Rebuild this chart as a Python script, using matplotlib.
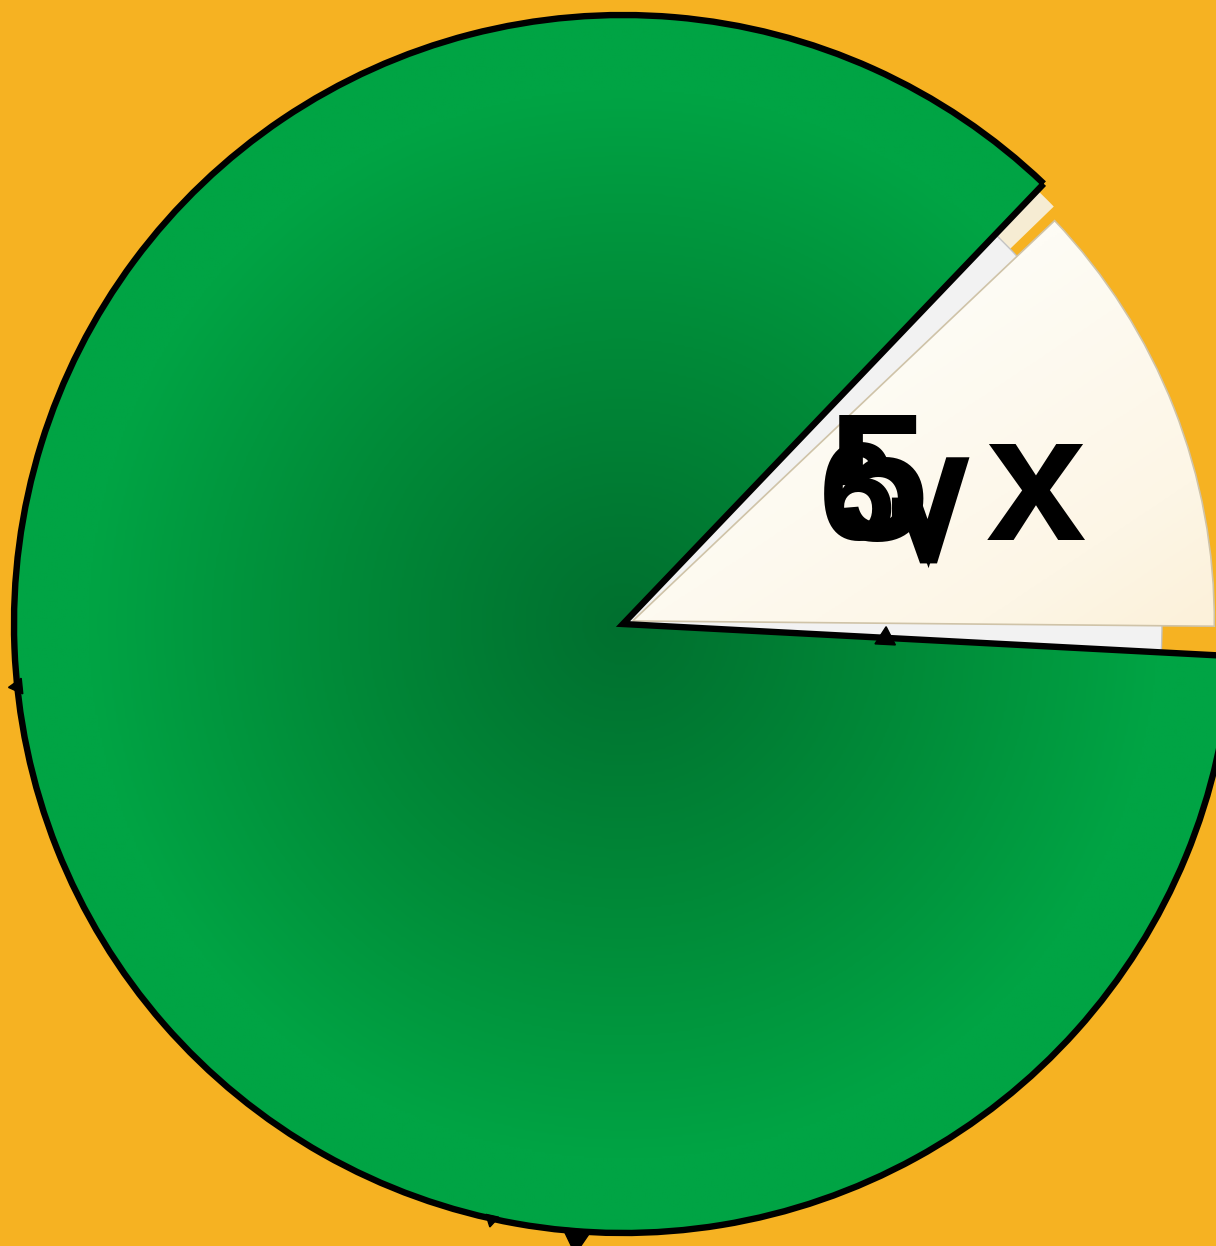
import numpy as np
import matplotlib.pyplot as plt
import matplotlib.patheffects as pe
from matplotlib.patches import Wedge
from matplotlib.colors import LinearSegmentedColormap

# pie shares: main (green) part and the cut-out slice
shares = [86.3, 13.7]
start_angle = 46.3

# label pieces drawn on the cut-out slice
label_parts = ['6', '5', '√', 'x']

# little black notches on the outline (angle in degrees, radius, marker rotation, size)
notch_angles = [-3.0, 185.8, 257.5, 265.6]
notch_radii = [0.43, 1.0, 1.0, 1.01]
notch_rot = [-3.0, 95.8, 167.5, 175.6]
notch_size = [17, 13, 11, 24]

bg = '#F6B222'
green_in, green_out = '#00702F', '#00A444'

fig = plt.figure(figsize=(12.16, 12.46), dpi=100)
fig.patch.set_facecolor(bg)
ax = fig.add_axes([0, 0, 1, 1])
ax.set_facecolor(bg)

# main pie, the second slice is left empty (it is "pulled out")
wedges, _ = ax.pie(shares, startangle=start_angle, counterclock=True,
                   colors=['none', 'none'],
                   wedgeprops=dict(linewidth=4.6, edgecolor='black', zorder=3))
wedges[1].set_visible(False)

px = 609.0
cx, cy = 623, 624
ax.set_xlim(-cx / px, (1216 - cx) / px)
ax.set_ylim(-(1246 - cy) / px, cy / px)
ax.set_aspect('equal')
ax.axis('off')

# radial gradient for the green part
xs = np.linspace(-1.05, 1.05, 600)
X, Y = np.meshgrid(xs, xs)
R = np.clip(np.sqrt(X**2 + Y**2) / 0.88, 0, 1) ** 1.1
gcmap = LinearSegmentedColormap.from_list('g', [green_in, '#008A38', green_out])
im = ax.imshow(R, extent=(-1.05, 1.05, -1.05, 1.05), origin='lower',
               cmap=gcmap, vmin=0, vmax=1, zorder=1, interpolation='bilinear')
im.set_clip_path(wedges[0])

# angles of the cut-out slice from the data
total = float(sum(shares))
t1 = start_angle + 360 * shares[0] / total
t2 = start_angle + 360

# layers behind the pulled-out slice
cream = Wedge((0, 0), 0.985, t2 - 2.2, t2, facecolor='#F6ECD3', edgecolor='none', zorder=1.2)
ax.add_patch(cream)
grey = Wedge((0, 0), 0.885, t1, t2, facecolor='#F2F2F2', edgecolor='#C4C4C4',
             linewidth=1.0, zorder=1.3)
ax.add_patch(grey)

# pulled-out slice with a soft cream gradient
sl = Wedge((0.016, 0.005), 0.955, t1 + 2.5, t2 - 2.8, facecolor='none',
           edgecolor='#CFC3A8', linewidth=1.2, zorder=1.6)
ax.add_patch(sl)
G = np.clip((X - 0.2) * 0.6 - (Y - 0.3) * 0.9, 0, 1)
ccmap = LinearSegmentedColormap.from_list('c', ['#FEFCF5', '#FDF6E6', '#FCEBCB'])
im2 = ax.imshow(G, extent=(-1.05, 1.05, -1.05, 1.05), origin='lower',
                cmap=ccmap, vmin=0, vmax=1, zorder=1.5, interpolation='bilinear')
im2.set_clip_path(sl)

# notches
for a, r, rot, ms in zip(notch_angles, notch_radii, notch_rot, notch_size):
    th = np.deg2rad(a)
    ax.plot(r * np.cos(th), r * np.sin(th), marker=(3, 0, rot), color='black',
            markersize=ms, zorder=4, linestyle='none')


def d(xp, yp):
    return (xp - cx) / px, (cy - yp) / px


font = dict(weight='bold', color='black', zorder=5)
ax.text(*d(858, 540), label_parts[0], fontsize=100, ha='center', va='baseline',
        family='Liberation Sans', **font)
ax.text(*d(878, 540), label_parts[1], fontsize=130, ha='center', va='baseline',
        family='Liberation Sans', **font)
ax.text(*d(928, 526), label_parts[2], fontsize=82, ha='center', va='center',
        family='Liberation Sans', color='black', zorder=5,
        path_effects=[pe.withStroke(linewidth=11, foreground='black',
                                    joinstyle='miter', capstyle='butt')])
ax.text(*d(1036, 540), label_parts[3], fontsize=130, ha='center', va='baseline',
        family='Liberation Sans', **font)

fig.savefig('out.png', dpi=100, facecolor=bg)
